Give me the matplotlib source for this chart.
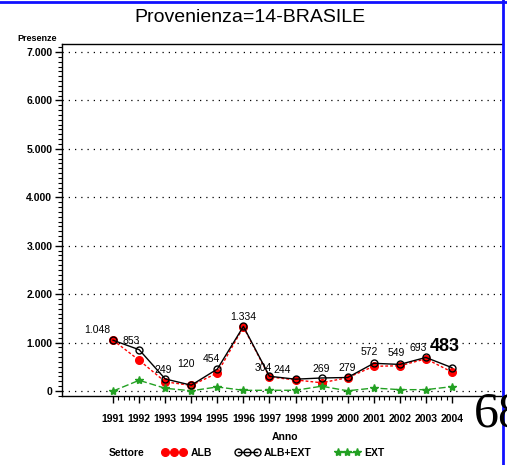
import matplotlib
matplotlib.use('Agg')
import matplotlib.pyplot as plt
from matplotlib.lines import Line2D
from matplotlib.ticker import FuncFormatter, MultipleLocator

# data
anni = [1991, 1992, 1993, 1994, 1995, 1996, 1997, 1998, 1999, 2000, 2001, 2002, 2003, 2004]
alb_ext = [1048, 853, 249, 120, 454, 1334, 304, 244, 269, 279, 572, 549, 693, 483]
alb = [1048, 636, 190, 115, 370, 1320, 290, 229, 170, 275, 510, 521, 665, 393]
ext = [0, 221, 56, 5, 84, 14, 15, 15, 99, 4, 62, 28, 28, 90]

# label offsets (pixels) of the label centre relative to the ALB+EXT points
lab_dx = [-16, -8, -2, -5, -6, 0, -6, -13, 0, 0, -4, -4, -8, -7]
lab_dy = [10, 9, 9, 21, 10, 9, 8, 9, 9, 9, 11, 11, 9, 21]


def fmt_it(v, pos=None):
    return f'{int(v):,}'.replace(',', '.')


W, H = 507, 465
plt.rcParams['font.family'] = ['Liberation Sans', 'DejaVu Sans']
fig = plt.figure(figsize=(W / 100, H / 100), dpi=100)

ax = fig.add_axes([62 / W, 1 - 396 / H, (503 - 62) / W, (396 - 44) / H])
ax.set_xlim(1989.04, 2005.96)
ax.set_ylim(-103, 7165)

green = '#22a022'
ax.plot(anni, alb, color='red', linestyle=(0, (2, 1.5)), linewidth=1,
        marker='o', markersize=5.5, markerfacecolor='red', markeredgecolor='red', zorder=3)
ax.plot(anni, alb_ext, color='black', linewidth=1,
        marker='o', markersize=5, markerfacecolor='none', markeredgecolor='black', zorder=4)
ax.plot(anni, ext, color=green, linestyle=(0, (5, 2)), linewidth=1,
        marker='*', markersize=6, markerfacecolor=green, markeredgecolor=green, zorder=3)

for i, (x, v) in enumerate(zip(anni, alb_ext)):
    big = (i == len(anni) - 1)
    ax.annotate(fmt_it(v), (x, v), xytext=(lab_dx[i] * 0.72, lab_dy[i] * 0.72),
                textcoords='offset points', ha='center', va='center',
                fontsize=13 if big else 7.5, fontweight='bold' if big else 'normal',
                zorder=5)

# grid
for yv in range(0, 7001, 1000):
    ax.axhline(yv, color='black', linestyle=(0, (1, 4)), linewidth=0.9, zorder=1)

ax.spines['right'].set_visible(False)
for s in ['left', 'bottom', 'top']:
    ax.spines[s].set_linewidth(1)

ax.yaxis.set_major_locator(MultipleLocator(1000))
ax.yaxis.set_minor_locator(MultipleLocator(100))
ax.yaxis.set_major_formatter(FuncFormatter(fmt_it))
ax.set_xticks(anni)
ax.set_xticks([a + k / 5 for a in anni[:-1] for k in range(1, 5)], minor=True)
ax.tick_params(axis='both', which='major', direction='out', length=5, width=1,
               labelsize=7.5)
ax.tick_params(axis='both', which='minor', direction='out', length=3, width=0.8)
ax.tick_params(axis='x', pad=8)
ax.tick_params(axis='y', pad=2)
for lab in ax.get_xticklabels() + ax.get_yticklabels():
    lab.set_fontweight('bold')

fig.text(57 / W, 1 - 43 / H, 'Presenze', ha='right', va='bottom', fontsize=6.5,
         fontweight='bold')
fig.text(285 / W, 1 - 437 / H, 'Anno', ha='center', va='center', fontsize=7.5,
         fontweight='bold')
fig.text(250 / W, 1 - 18 / H, 'Provenienza=14-BRASILE', ha='center', va='center',
         fontsize=14, color='black')

# legend
handles = [
    Line2D([], [], color='red', linestyle=(0, (2, 1.5)), linewidth=1, marker='o',
           markersize=5.5, markerfacecolor='red', markeredgecolor='red'),
    Line2D([], [], color='black', linewidth=1, marker='o', markersize=5,
           markerfacecolor='none', markeredgecolor='black'),
    Line2D([], [], color=green, linestyle=(0, (5, 2)), linewidth=1, marker='*',
           markersize=6, markerfacecolor=green, markeredgecolor=green),
]
leg = fig.legend(handles, ['ALB', 'ALB+EXT', 'EXT'], ncol=3, numpoints=3,
                 loc='center left', bbox_to_anchor=(152 / W, 1 - 453 / H),
                 frameon=False, fontsize=7.5, handlelength=2.4, columnspacing=2.2,
                 handletextpad=0.4)
for t in leg.get_texts():
    t.set_fontweight('bold')
fig.text(127 / W, 1 - 453 / H, 'Settore', ha='center', va='center', fontsize=7.5,
         fontweight='bold')

# page number and blue frame from the screenshot
fig.text(474 / W, 1 - 426 / H, '68', ha='left', va='baseline', fontsize=36,
         family='Liberation Serif')
fig.add_artist(Line2D([0, 1], [1 - 2 / H, 1 - 2 / H], color='#1010ff', linewidth=2))
fig.add_artist(Line2D([503 / W, 503 / W], [0, 1], color='#1010ff', linewidth=2))

fig.savefig('out.png', dpi=100)
